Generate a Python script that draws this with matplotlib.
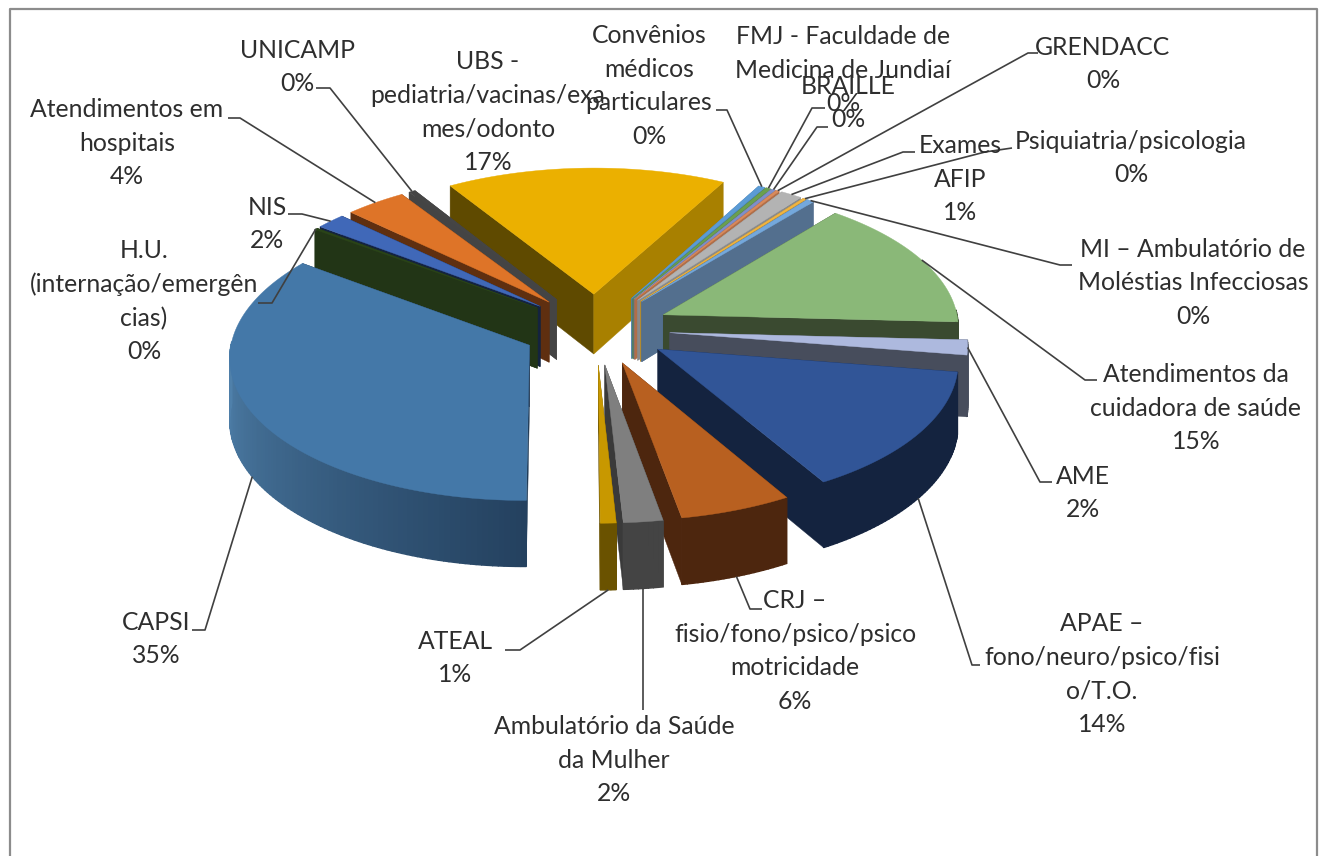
import numpy as np
import matplotlib
matplotlib.use("Agg")
import matplotlib.pyplot as plt
from matplotlib.colors import to_rgb
from matplotlib.patches import Polygon

# ---------- data ----------
slice_names = ["Convênios", "FMJ", "BRAILLE", "GRENDACC", "Exames AFIP", "Psiquiatria", "MI",
               "Cuidadora", "AME", "APAE", "CRJ", "Ambulatório", "ATEAL", "CAPSI",
               "H.U.", "NIS", "Atendimentos", "UNICAMP", "UBS"]
slice_values = [0.4, 0.3, 0.25, 0.2, 1.3, 0.2, 0.45,
                15.0, 1.7, 14.2, 5.7, 2.0, 0.8, 35.6,
                0.2, 1.8, 3.7, 0.4, 17.0]
label_texts = ["Convênios\nmédicos\nparticulares\n0%",
               "FMJ - Faculdade de\nMedicina de Jundiaí\n0%",
               "BRAILLE\n0%",
               "GRENDACC\n0%",
               "Exames\nAFIP\n1%",
               "Psiquiatria/psicologia\n0%",
               "MI – Ambulatório de\nMoléstias Infecciosas\n0%",
               "Atendimentos da\ncuidadora de saúde\n15%",
               "AME\n2%",
               "APAE –\nfono/neuro/psico/fisi\no/T.O.\n14%",
               "CRJ –\nfisio/fono/psico/psico\nmotricidade\n6%",
               "Ambulatório da Saúde\nda Mulher\n2%",
               "ATEAL\n1%",
               "CAPSI\n35%",
               "H.U.\n(internação/emergên\ncias)\n0%",
               "NIS\n2%",
               "Atendimentos em\nhospitais\n4%",
               "UNICAMP\n0%",
               "UBS -\npediatria/vacinas/exa\nmes/odonto\n17%"]

# ---------- styles: top, start wall, end wall, rim at start, rim at end ----------
slice_colors = [
    ("#5b9bd5", "#4a7ea8", "#4a7ea8", "#4a7ea8", "#4a7ea8"),
    ("#6a9f50", "#55803f", "#55803f", "#55803f", "#55803f"),
    ("#7f8fc9", "#66729f", "#66729f", "#66729f", "#66729f"),
    ("#d98a5c", "#b06e48", "#b06e48", "#b06e48", "#b06e48"),
    ("#b3b3b3", "#8a8a8a", "#8a8a8a", "#8a8a8a", "#8a8a8a"),
    ("#f0b441", "#b58a2b", "#b58a2b", "#b58a2b", "#b58a2b"),
    ("#74a8dc", "#536f8e", "#536f8e", "#536f8e", "#536f8e"),
    ("#8ab878", "#3a4a30", "#3a4a30", "#3a4a30", "#3a4a30"),
    ("#adb9de", "#474d5c", "#474d5c", "#474d5c", "#474d5c"),
    ("#315597", "#14233f", "#14233f", "#14233f", "#14233f"),
    ("#b86020", "#4d260e", "#4d260e", "#4d260e", "#4d260e"),
    ("#7f7f7f", "#3a3a3a", "#3a3a3a", "#444444", "#444444"),
    ("#c89800", "#6a5200", "#6a5200", "#6a5200", "#6a5200"),
    ("#4478a8", "#203a55", "#1f3550", "#24415f", "#4f80aa"),
    ("#2a4418", "#223516", "#223516", "#223516", "#223516"),
    ("#4068b8", "#14233f", "#14233f", "#14233f", "#14233f"),
    ("#de7428", "#5f2f10", "#5f2f10", "#5f2f10", "#5f2f10"),
    ("#454545", "#444444", "#444444", "#444444", "#444444"),
    ("#ebb000", "#5f4a00", "#a88000", "#a88000", "#a88000"),
]

# ---------- layout ----------
W, H = 1324, 856
CX, CY, R, K, PERSP, DEPTH, EXPL = 596, 329, 296, 0.48, 0.075, 61, 0.25
START = 28.5

# label centre (x, y) and leader: anchor depth (0 top, 1 bottom) + elbow points
label_pos = [(649, 86), (843, 70), (848, 103), (1103, 64), (960, 179), (1131, 158), (1193, 283),
             (1196, 408), (1083, 493), (1102, 674), (795, 651), (614, 760), (455, 658), (156, 639),
             (144, 301), (267, 224), (127, 143), (297, 67), (488, 112)]
leaders = [(0, [(727, 110), (716, 110)]), (0, [(812, 108), (825, 108)]), (0, [(817, 127), (828, 127)]),
           (0, [(1028, 53), (1038, 53)]), (0, [(903, 152), (915, 152)]), (0, [(985, 152), (1012, 148)]),
           (0, [(1060, 265), (1072, 265)]), (0, [(1085, 380), (1097, 380)]), (0, [(1040, 482), (1052, 482)]),
           (1, [(972, 665), (980, 665)]), (1, [(750, 609), (762, 609)]), (1, [(None, 710)]),
           (1, [(520, 650), (505, 650)]), (1, [(205, 630), (192, 630)]), (0, [(272, 303), (258, 303)]),
           (0, [(302, 214), (288, 214)]), (0, [(240, 118), (228, 118)]), (0, [(330, 88), (316, 88)]), None]

plt.rcParams["font.family"] = ["Lato", "DejaVu Sans"]
fig = plt.figure(figsize=(W / 100, H / 100), dpi=100)
ax = fig.add_axes([0, 0, 1, 1])
ax.set_xlim(0, W)
ax.set_ylim(H, 0)
ax.axis("off")

ax.plot([10, 10, 1317, 1317], [H, 9, 9, H], color="#8c8c8c", lw=1.6, zorder=1)


def project(X, Y, z):
    s = 1 + PERSP * Y
    return CX + R * X * s, CY + R * K * Y * s + DEPTH * z * s


def rim(ax_x, ax_y, theta, z):
    t = np.radians(theta)
    return project(ax_x + np.sin(t), ax_y - np.cos(t), z)


vals = np.array(slice_values, dtype=float)
sweep = vals / vals.sum() * 360.0
starts = START + np.concatenate([[0], np.cumsum(sweep)[:-1]])
mids = starts + sweep / 2
apex_x = EXPL * np.sin(np.radians(mids))
apex_y = -EXPL * np.cos(np.radians(mids))
order = np.argsort(-np.cos(np.radians(mids)))

z = 2.0
for i in order:
    top, wall_a, wall_b, rim_a, rim_b = slice_colors[i]
    a0, a1 = starts[i], starts[i] + sweep[i]
    ax0, ay0 = apex_x[i], apex_y[i]
    thetas = np.linspace(a0, a1, max(3, int(sweep[i]) + 2))
    for ang, col in ((a0, wall_a), (a1, wall_b)):
        quad = [project(ax0, ay0, 0), rim(ax0, ay0, ang, 0), rim(ax0, ay0, ang, 1), project(ax0, ay0, 1)]
        ax.add_patch(Polygon(quad, closed=True, fc=col, ec=col, lw=0.3, zorder=z))
    ca, cb = np.array(to_rgb(rim_a)), np.array(to_rgb(rim_b))
    for t0, t1 in zip(thetas[:-1], thetas[1:]):
        tm = (t0 + t1) / 2
        if np.cos(np.radians(tm)) < 0.03:
            f = min(1.0, (tm - a0) / 90.0)
            col = tuple(ca + (cb - ca) * f)
            quad = [rim(ax0, ay0, t0, 0), rim(ax0, ay0, t1, 0), rim(ax0, ay0, t1, 1), rim(ax0, ay0, t0, 1)]
            ax.add_patch(Polygon(quad, closed=True, fc=col, ec=col, lw=1.0, zorder=z + 0.1))
    pts = [project(ax0, ay0, 0)] + [rim(ax0, ay0, t, 0) for t in thetas]
    ax.add_patch(Polygon(pts, closed=True, fc=top, ec=top, lw=0.3, zorder=z + 0.2))
    z += 1

for i, txt in enumerate(label_texts):
    if leaders[i] is not None:
        depth, elbow = leaders[i]
        p0 = rim(apex_x[i], apex_y[i], mids[i], depth)
        xs = [p0[0]] + [p0[0] if p[0] is None else p[0] for p in elbow]
        ys = [p0[1]] + [p[1] for p in elbow]
        ax.plot(xs, ys, color="#404040", lw=1.2, zorder=60, solid_capstyle="butt")

for txt, (x, y) in zip(label_texts, label_pos):
    ax.text(x, y, txt, ha="center", va="center", fontsize=17.8, color="#2e2e2e",
            linespacing=1.55, zorder=70, multialignment="center")

fig.savefig("out.png", dpi=100)
